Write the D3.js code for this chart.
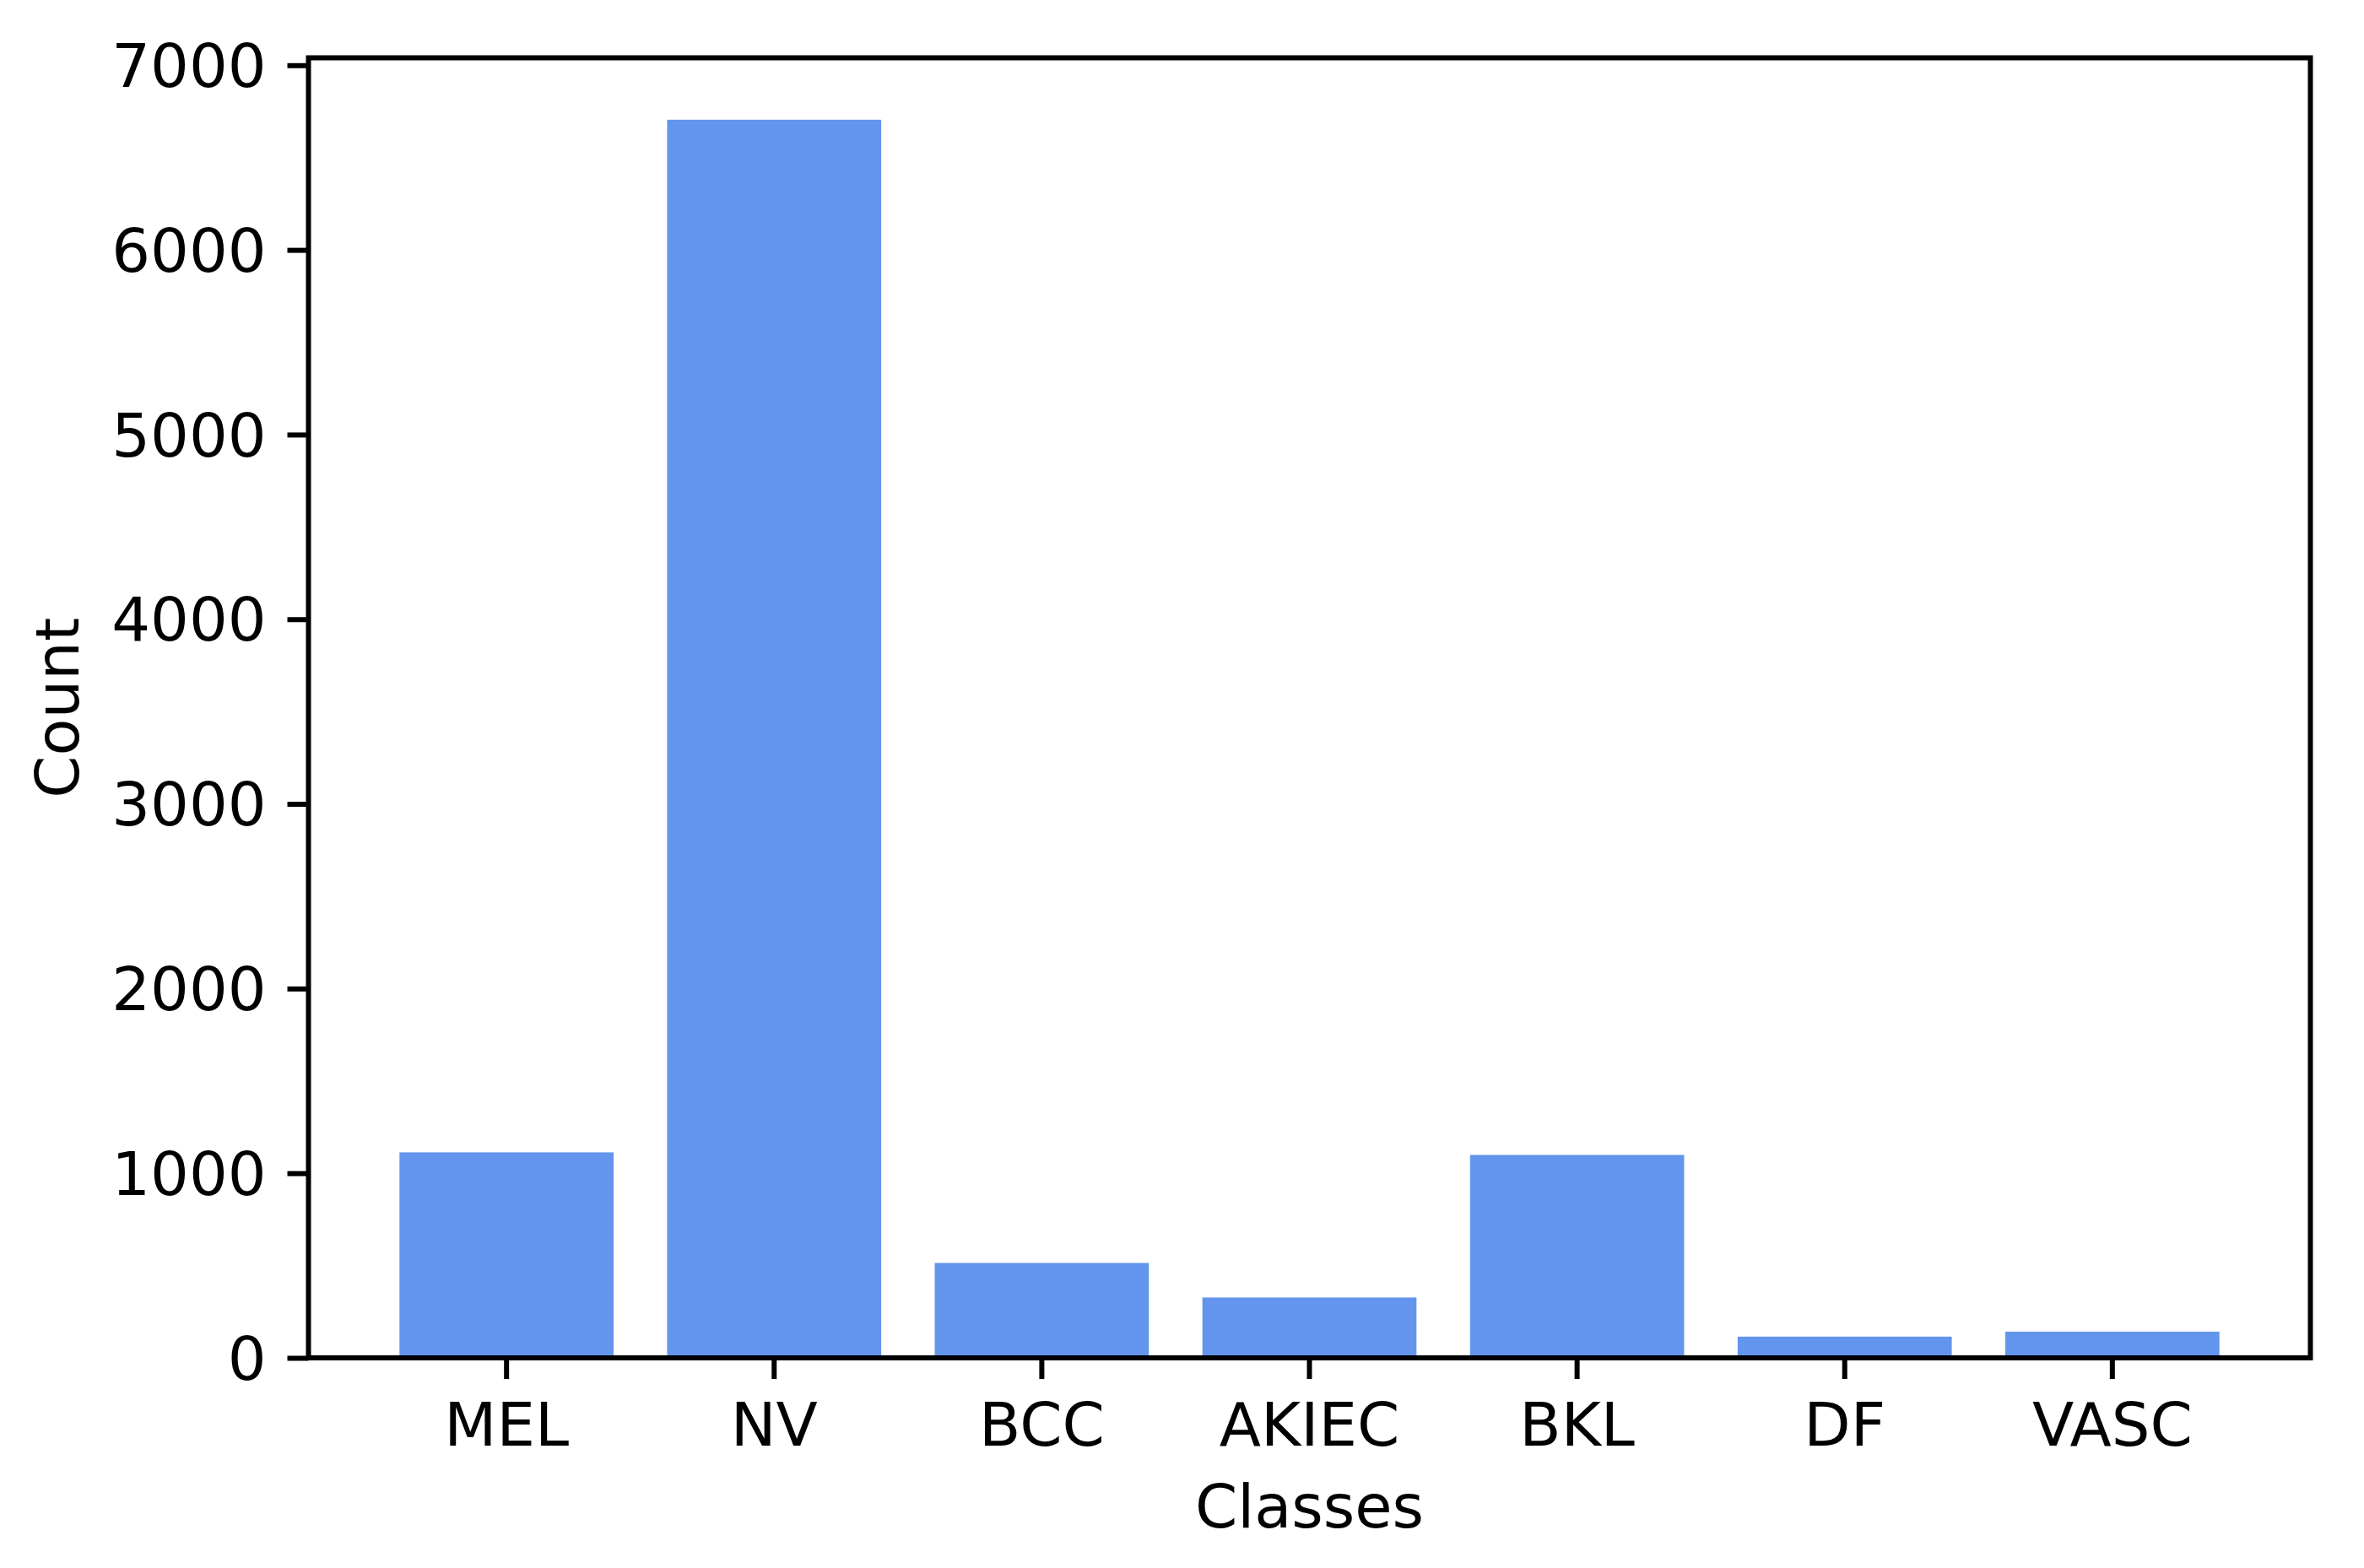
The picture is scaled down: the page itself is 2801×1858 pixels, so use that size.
<!DOCTYPE html>
<html>
<head>
<meta charset="utf-8">
<script src="https://cdn.jsdelivr.net/npm/d3@7"></script>
<style>
  body { margin: 0; background: #fff; }
  text { font-family: "DejaVu Sans", sans-serif; fill: #000; }
</style>
</head>
<body>
<div id="chart"></div>
<script>
// class counts
const classes = ["MEL", "NV", "BCC", "AKIEC", "BKL", "DF", "VASC"];
const counts = [1113, 6705, 514, 327, 1099, 115, 142];
const yTicks = [0, 1000, 2000, 3000, 4000, 5000, 6000, 7000];

const W = 2801, H = 1858;
const margin = { left: 365.5, right: W - 2737.5, top: 68.5, bottom: H - 1609 };
const width = W - margin.left - margin.right,
      height = H - margin.top - margin.bottom;
const fontSize = 72, tickLen = 25, pad = 25;

const svg = d3.select("#chart").append("svg")
    .attr("width", W)
    .attr("height", H);

const g = svg.append("g")
    .attr("transform", `translate(${margin.left},${margin.top})`);

// matplotlib style: bar width 0.8, 5% margins
const x = d3.scaleBand()
    .domain(classes)
    .range([0, width])
    .paddingInner(0.2)
    .paddingOuter(0.34);

const y = d3.scaleLinear()
    .domain([0, d3.max(counts) * 1.05])
    .range([height, 0]);

g.selectAll(".bar")
    .data(classes)
    .enter().append("rect")
    .attr("class", "bar")
    .attr("x", d => x(d))
    .attr("y", (d, i) => y(counts[i]))
    .attr("width", x.bandwidth())
    .attr("height", (d, i) => y(0) - y(counts[i]))
    .attr("fill", "#6495ED");

const xAxis = g.append("g")
    .attr("transform", `translate(0,${height})`)
    .call(d3.axisBottom(x).tickSize(tickLen).tickPadding(pad).tickSizeOuter(0));

const yAxis = g.append("g")
    .call(d3.axisLeft(y).tickValues(yTicks).tickFormat(d3.format("d"))
        .tickSize(tickLen).tickPadding(pad).tickSizeOuter(0));

[xAxis, yAxis].forEach(a => {
    a.select(".domain").remove();
    a.selectAll(".tick line").attr("stroke", "#000").attr("stroke-width", 6);
    a.selectAll(".tick text")
        .style("font-family", "DejaVu Sans")
        .style("font-size", fontSize + "px")
        .attr("fill", "#000");
});
xAxis.selectAll(".tick text").attr("dy", null).attr("y", 1713 - 1609);
yAxis.selectAll(".tick text").attr("dy", "0.35em");

// frame
g.append("rect")
    .attr("width", width)
    .attr("height", height)
    .attr("fill", "none")
    .attr("stroke", "#000")
    .attr("stroke-width", 6)
    .attr("stroke-linecap", "square");

svg.append("text")
    .attr("x", margin.left + width / 2)
    .attr("y", 1810)
    .attr("text-anchor", "middle")
    .style("font-size", fontSize + "px")
    .text("Classes");

svg.append("text")
    .attr("transform", `translate(93,${margin.top + height / 2}) rotate(-90)`)
    .attr("text-anchor", "middle")
    .style("font-size", fontSize + "px")
    .text("Count");
</script>
</body>
</html>
